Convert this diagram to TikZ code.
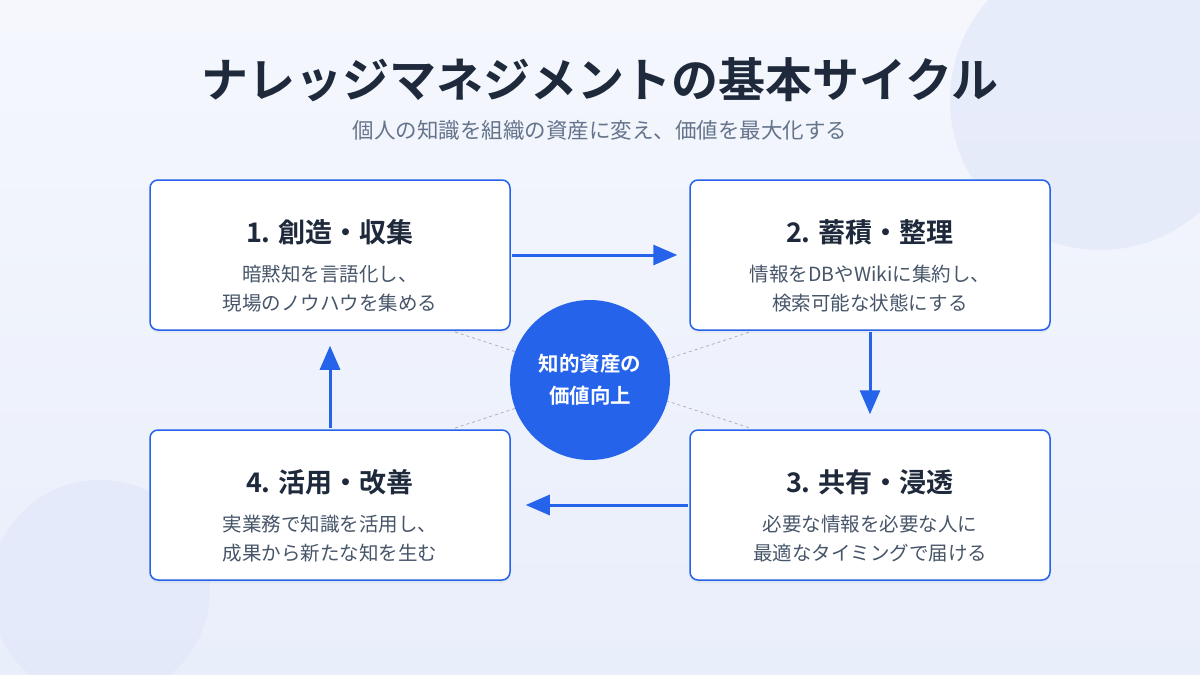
\documentclass[tikz,border=0pt]{standalone}
\usepackage{fontspec}
\setmainfont{Noto Sans CJK JP}[BoldFont={Noto Sans CJK JP Bold}]
\usetikzlibrary{shadows,arrows.meta}
\definecolor{bgA}{HTML}{F5F7FD}
\definecolor{bgB}{HTML}{E9EEFB}
\definecolor{deco}{HTML}{E2E8F9}
\definecolor{blu}{HTML}{2563EB}
\definecolor{ink}{HTML}{1E293B}
\definecolor{sub}{HTML}{64748B}
\definecolor{body}{HTML}{475569}
\begin{document}
\begin{tikzpicture}[x=1pt,y=-1pt,
 box/.style={draw=blu,line width=1.5pt,fill=white,rounded corners=8pt,minimum width=360pt,minimum height=150pt,drop shadow={opacity=0.08,shadow xshift=0pt,shadow yshift=-3pt}},
 ttl/.style={font=\fontsize{27}{30}\selectfont\bfseries,text=ink},
 bod/.style={font=\fontsize{19.5}{29}\selectfont,text=body,align=center},
 arr/.style={draw=blu,line width=3pt,-{Triangle[length=24pt,width=20pt]}},
 dsh/.style={draw=gray!60,dashed,line width=0.8pt}]
\useasboundingbox (0,0) rectangle (1200,675);
\shade[top color=bgA,bottom color=bgB] (0,0) rectangle (1200,675);
\fill[deco,opacity=0.7] (1100,100) circle (150);
\fill[deco,opacity=0.7] (100,590) circle (110);
\node[font=\fontsize{47}{52}\selectfont\bfseries,text=ink] (title) at (600,80) {ナレッジマネジメントの基本サイクル};
\node[font=\fontsize{21.5}{26}\selectfont,text=sub] (subt) at (600,130) {個人の知識を組織の資産に変え、価値を最大化する};
\coordinate (d1) at (455,332); \coordinate (d2) at (750,428);
\coordinate (d3) at (455,428); \coordinate (d4) at (750,332);
\draw[dsh] (d1) -- (d2); \draw[dsh] (d3) -- (d4);
\node[box] (b1) at (330,255) {};
\node[box] (b2) at (870,255) {};
\node[box] (b3) at (870,505) {};
\node[box] (b4) at (330,505) {};
\node[circle,fill=blu,minimum size=160pt,text=white,font=\fontsize{20.5}{32}\selectfont\bfseries,align=center] (c) at (590,380) {知的資産の\\価値向上};
\node[ttl] at (330,232) {1. 創造・収集};
\node[bod] at (330,289) {暗黙知を言語化し、\\現場のノウハウを集める};
\node[ttl] at (870,232) {2. 蓄積・整理};
\node[bod] at (870,289) {情報をDBやWikiに集約し、\\検索可能な状態にする};
\node[ttl] at (870,482) {3. 共有・浸透};
\node[bod] at (870,539) {必要な情報を必要な人に\\最適なタイミングで届ける};
\node[ttl] at (330,482) {4. 活用・改善};
\node[bod] at (330,539) {実業務で知識を活用し、\\成果から新たな知を生む};
\draw[arr] ([xshift=1pt]b1.east) -- ([xshift=-12pt]b2.west);
\draw[arr] ([yshift=-1pt]b2.south) -- ([yshift=15pt]b3.north);
\draw[arr] ([xshift=-1pt]b3.west) -- ([xshift=15pt]b4.east);
\draw[arr] ([yshift=1pt]b4.north) -- ([yshift=-15pt]b1.south);
\end{tikzpicture}
\end{document}
